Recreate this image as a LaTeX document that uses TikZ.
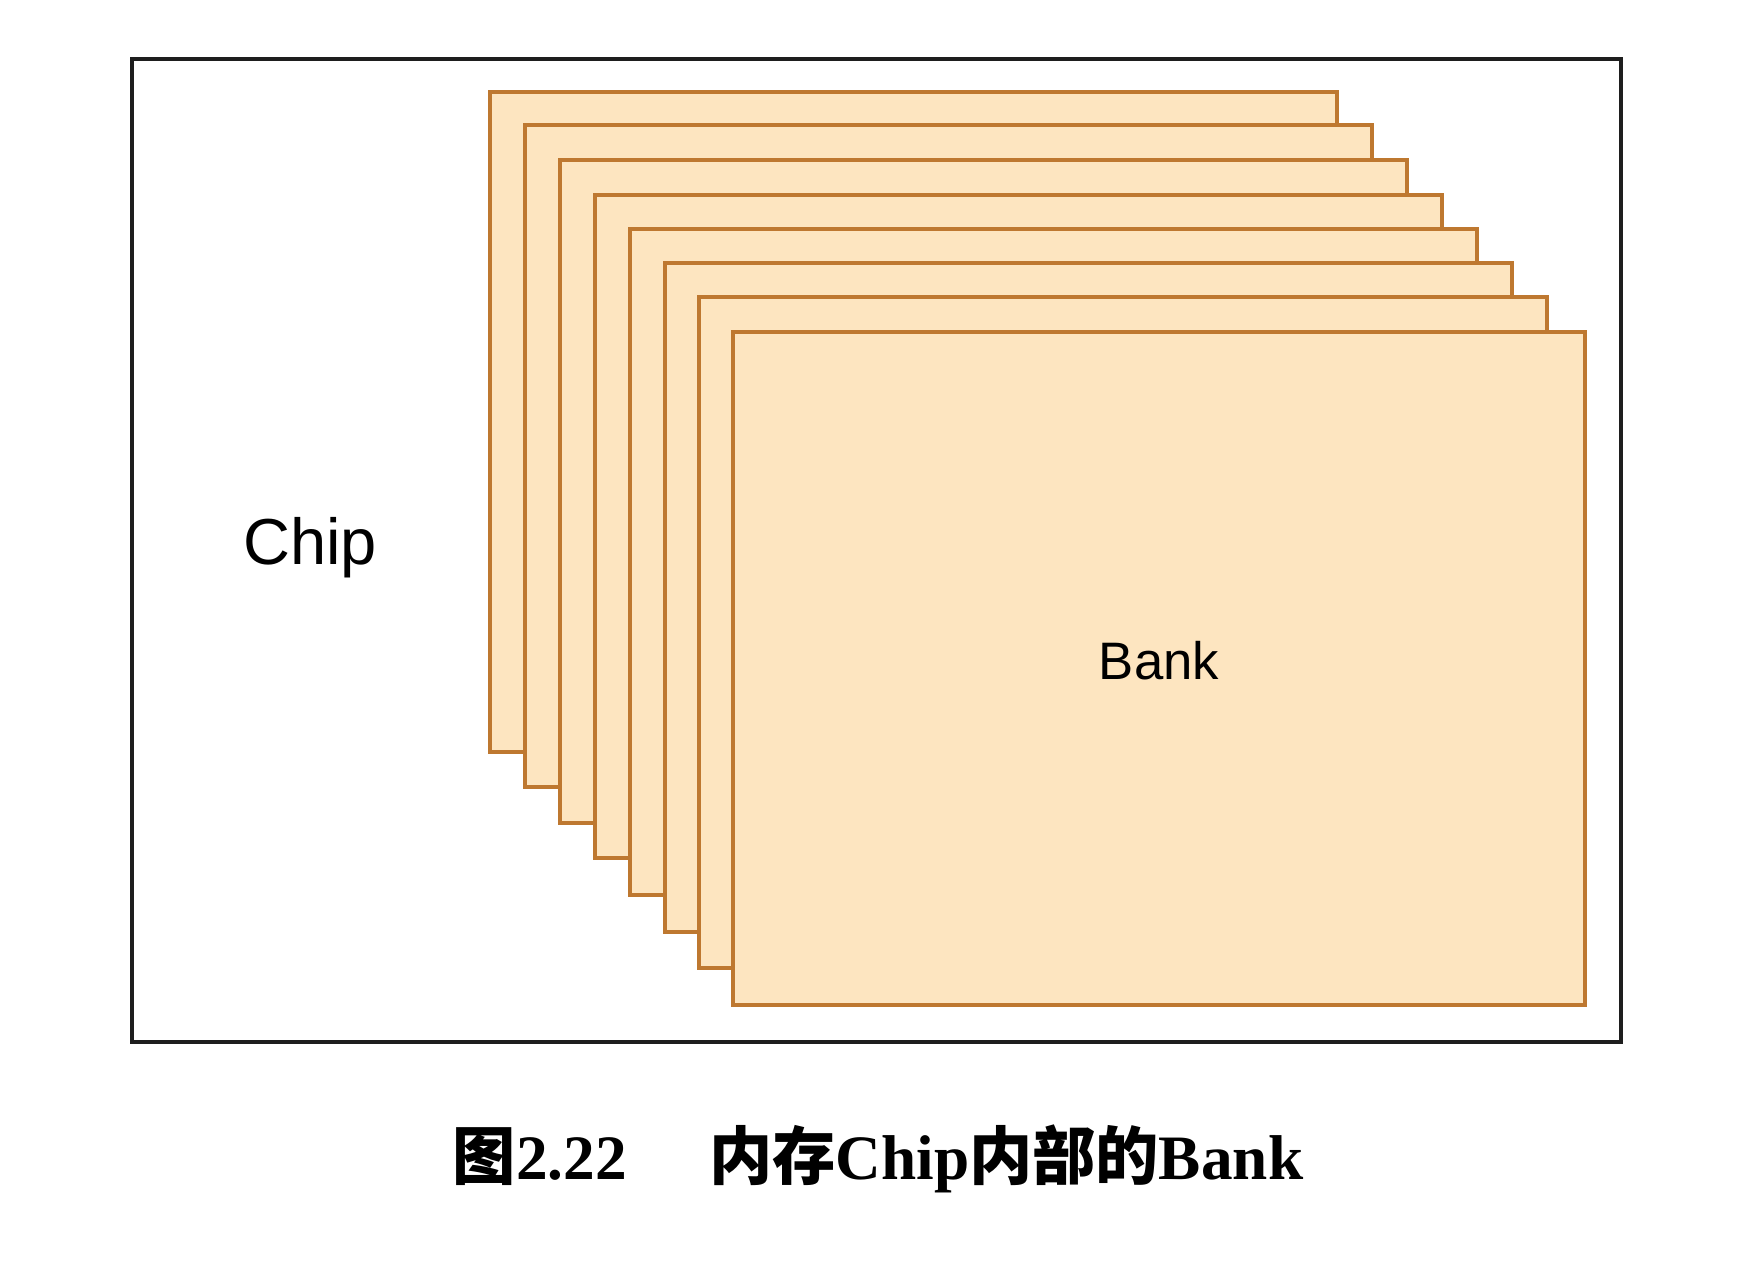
\documentclass[tikz,border=0pt]{standalone}
\usepackage{fontspec}
\setmainfont{Liberation Sans}
\newfontfamily\cjk{Noto Sans CJK SC}
\newfontfamily\capserif{Liberation Serif}
\definecolor{bk}{RGB}{253,229,192}
\definecolor{bd}{RGB}{190,120,48}
\definecolor{ln}{RGB}{30,30,30}
\tikzset{bank/.style={fill=bk,draw=bd,line width=.9pt},
  chipbox/.style={draw=ln,line width=1.2pt}}
\begin{document}
\begin{tikzpicture}[every node/.style={inner sep=0pt}]
\useasboundingbox (0,0) rectangle (17.62,12.80);
\draw[chipbox] (1.32,2.38) rectangle (16.21,12.21);
\draw[bank] (4.90,5.28) rectangle (13.37,11.88);\draw[bank] (5.25,4.93) rectangle (13.72,11.55);
\draw[bank] (5.60,4.57) rectangle (14.07,11.20);\draw[bank] (5.95,4.22) rectangle (14.42,10.85);
\draw[bank] (6.30,3.85) rectangle (14.77,10.51);\draw[bank] (6.65,3.48) rectangle (15.12,10.17);
\draw[bank] (6.99,3.12) rectangle (15.47,9.83);\draw[bank] (7.33,2.75) rectangle (15.85,9.48);
\node[anchor=base,font=\fontsize{18.5}{20}\selectfont] (chip) at (3.10,7.15){Chip};
\node[anchor=base,font=\fontsize{15}{17}\selectfont] (bank) at (11.59,6.00){Bank};
\node[anchor=base,font=\fontsize{18}{20}\selectfont\bfseries] (cap) at (8.78,1.00){{\cjk 图}{\capserif 2.22}\hspace{1.3em}{\cjk 内存}{\capserif Chip}{\cjk 内部的}{\capserif Bank}};
\end{tikzpicture}
\end{document}
